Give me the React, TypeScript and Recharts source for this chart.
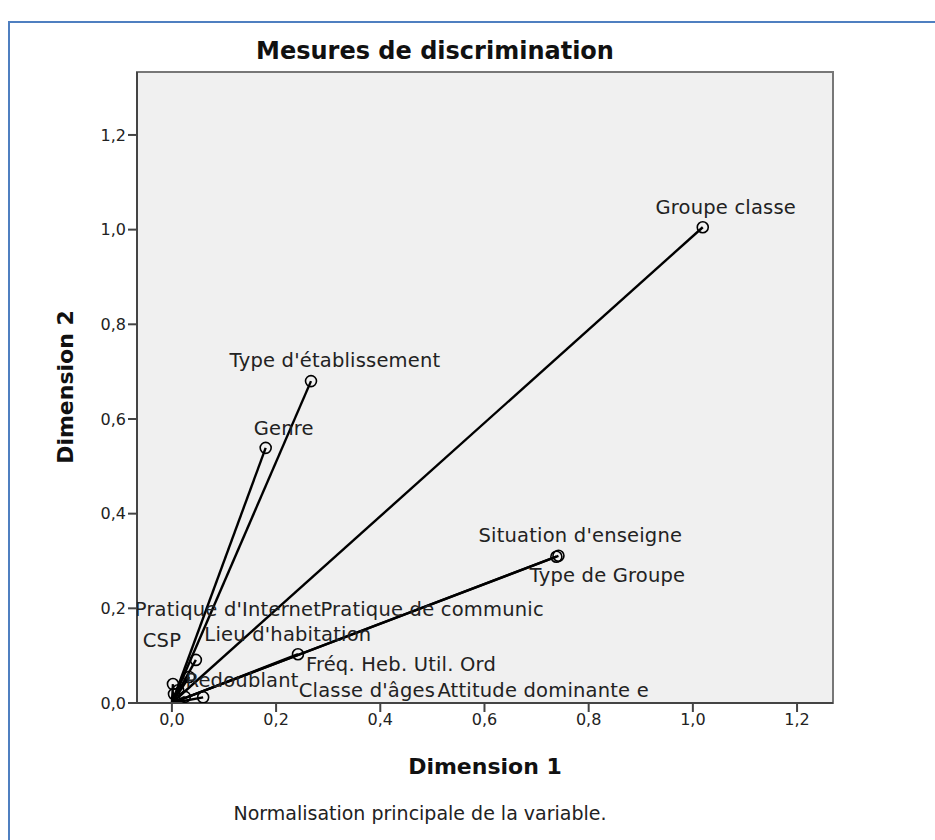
import {
  ScatterChart,
  Scatter,
  XAxis,
  YAxis,
  CartesianGrid,
  ReferenceLine,
  ReferenceArea,
} from "recharts";

// discrimination measures
const variables = [
  "Groupe classe",
  "Type d'établissement",
  "Genre",
  "Situation d'enseigne",
  "Type de Groupe",
  "Fréq. Heb. Util. Ord",
  "Lieu d'habitation",
  "CSP",
  "Pratique d'Internet",
  "Pratique de communic",
  "Redoublant",
  "Classe d'âges",
  "Attitude dominante e",
];
const dimension1 = [1.019, 0.267, 0.18, 0.738, 0.742, 0.242, 0.046, 0.004, 0.002, 0.012, 0.033, 0.025, 0.06];
const dimension2 = [1.005, 0.68, 0.539, 0.309, 0.311, 0.103, 0.091, 0.019, 0.04, 0.027, 0.055, 0.013, 0.012];

const xTicks = [0, 0.2, 0.4, 0.6, 0.8, 1.0, 1.2];
const yTicks = [0, 0.2, 0.4, 0.6, 0.8, 1.0, 1.2];

const X_MIN = -0.067;
const X_MAX = 1.269;
const Y_MAX = 1.333;

// label placement relative to the point (px), SPSS style collision offsets
const labelOffsets: Record<string, [number, number]> = {
  "Groupe classe": [23, -13],
  "Type d'établissement": [24, -14],
  Genre: [18, -13],
  "Situation d'enseigne": [24, -15],
  "Type de Groupe": [49, 26],
  "Fréq. Heb. Util. Ord": [103, 17],
  "Lieu d'habitation": [92, -19],
  CSP: [-12, -47],
  "Pratique d'Internet": [55, -68],
  "Pratique de communic": [254, -74],
  Redoublant: [53, 10],
  "Classe d'âges": [182, 0],
  "Attitude dominante e": [340, 0],
};

const points = variables.map((name, i) => ({
  name,
  x: dimension1[i],
  y: dimension2[i],
}));

const FONT = "'DejaVu Sans', sans-serif";
const fmt = (v: number) => v.toFixed(1).replace(".", ",");

const PointMark = (props: any) => {
  const { cx, cy, payload } = props;
  const [dx, dy] = labelOffsets[payload.name] || [0, -12];
  return (
    <g>
      <circle cx={cx} cy={cy} r={5.5} fill="none" stroke="#000" strokeWidth={1.6} />
      <text
        x={cx + dx}
        y={cy + dy}
        textAnchor="middle"
        fontFamily={FONT}
        fontSize={19.5}
        letterSpacing={0.2}
        fill="#222"
      >
        {payload.name}
      </text>
    </g>
  );
};

export default function App() {
  return (
    <div
      style={{
        position: "fixed",
        left: 0,
        top: 0,
        width: 935,
        height: 840,
        background: "#fff",
        overflow: "hidden",
      }}
    >
      <div
        style={{
          position: "absolute",
          left: 8,
          top: 21,
          width: 1000,
          height: 1000,
          borderLeft: "2px solid #4f7fc0",
          borderTop: "2px solid #4f7fc0",
        }}
      />
      <div
        style={{
          position: "absolute",
          left: 0,
          width: 870,
          top: 37,
          textAlign: "center",
          fontFamily: FONT,
          fontWeight: "bold",
          fontSize: 24,
          color: "#111",
        }}
      >
        Mesures de discrimination
      </div>
      <ScatterChart
        width={935}
        height={840}
        margin={{ top: 72, right: 102, left: 77, bottom: 97 }}
        style={{ position: "absolute", left: 0, top: 0 }}
      >
        <CartesianGrid horizontal={false} vertical={false} fill="#f0f0f0" />
        <ReferenceArea
          x1={X_MIN}
          x2={X_MAX}
          y1={0}
          y2={Y_MAX}
          fill="none"
          stroke="#777"
          strokeWidth={2}
          ifOverflow="visible"
        />
        <XAxis
          type="number"
          dataKey="x"
          domain={[X_MIN, X_MAX]}
          ticks={xTicks}
          allowDataOverflow
          height={40}
          tickFormatter={fmt}
          tickSize={9}
          axisLine={{ stroke: "#444", strokeWidth: 2 }}
          tickLine={{ stroke: "#444", strokeWidth: 2 }}
          tick={{ fill: "#222", fontSize: 16, fontFamily: FONT }}
        />
        <YAxis
          type="number"
          dataKey="y"
          domain={[0, Y_MAX]}
          ticks={yTicks}
          allowDataOverflow
          width={60}
          tickFormatter={fmt}
          tickSize={9}
          axisLine={{ stroke: "#444", strokeWidth: 2 }}
          tickLine={{ stroke: "#444", strokeWidth: 2 }}
          tick={{ fill: "#222", fontSize: 16, fontFamily: FONT }}
        />
        {points.map((p) => (
          <ReferenceLine
            key={p.name}
            segment={[
              { x: 0, y: 0 },
              { x: p.x, y: p.y },
            ]}
            stroke="#000"
            strokeWidth={2.4}
          />
        ))}
        <Scatter data={points} shape={PointMark} isAnimationActive={false} />
      </ScatterChart>
      <div
        style={{
          position: "absolute",
          left: 137,
          width: 696,
          top: 754,
          textAlign: "center",
          fontFamily: FONT,
          fontWeight: "bold",
          fontSize: 22,
          color: "#111",
        }}
      >
        Dimension 1
      </div>
      <div
        style={{
          position: "absolute",
          left: 65,
          top: 387,
          transform: "translate(-50%, -50%) rotate(-90deg)",
          whiteSpace: "nowrap",
          fontFamily: FONT,
          fontWeight: "bold",
          fontSize: 22,
          color: "#111",
        }}
      >
        Dimension 2
      </div>
      <div
        style={{
          position: "absolute",
          left: 0,
          width: 840,
          top: 802,
          textAlign: "center",
          fontFamily: FONT,
          fontSize: 19,
          color: "#222",
        }}
      >
        Normalisation principale de la variable.
      </div>
    </div>
  );
}
